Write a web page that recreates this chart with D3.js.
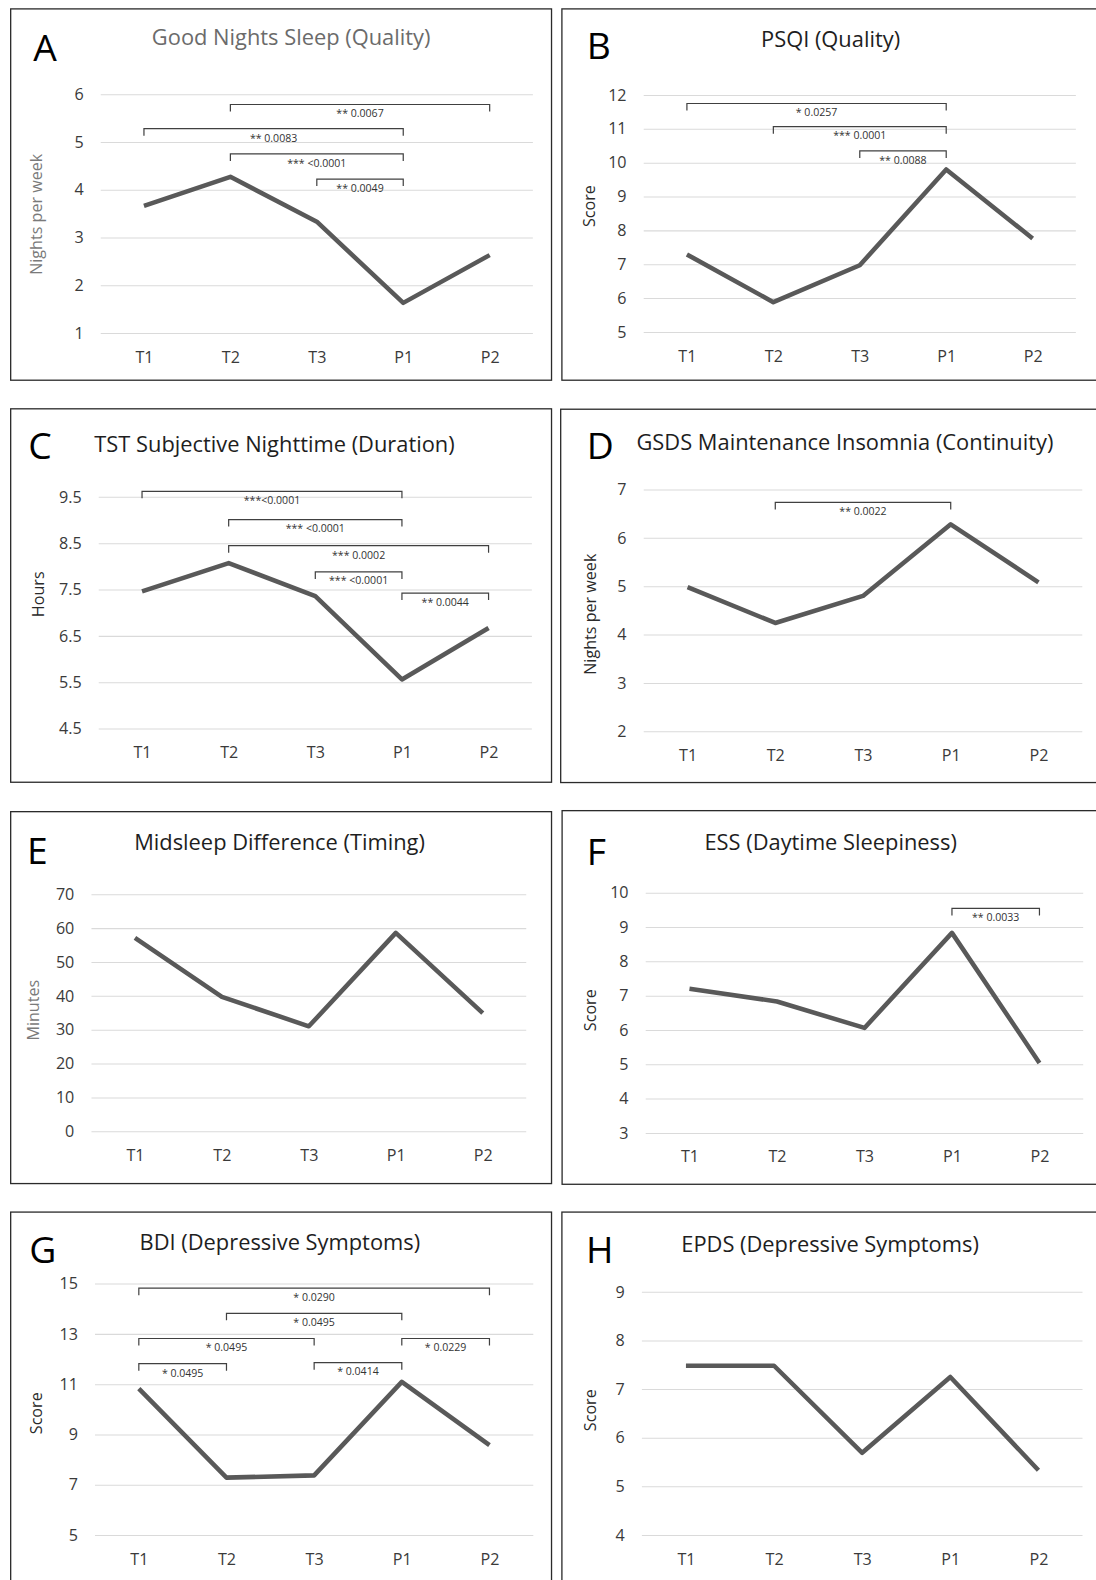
<!DOCTYPE html>
<html>
<head>
<meta charset="utf-8">
<script src="https://cdn.jsdelivr.net/npm/d3@7"></script>
<style>
body{margin:0;background:#fff;}
</style>
</head>
<body>
<svg id="chart" width="1096" height="1580" viewBox="0 0 1088 1568"></svg>
<script>
var FONT = "'Open Sans', 'Noto Sans', sans-serif";

var categories = ["T1", "T2", "T3", "P1", "P2"];

var goodNights = [3.66, 4.27, 3.33, 1.63, 2.63];
var psqiScore = [7.29, 5.88, 6.97, 9.8, 7.76];
var tstHours = [7.46, 8.07, 7.36, 5.56, 6.67];
var gsdsNights = [4.98, 4.24, 4.8, 6.28, 5.08];
var midsleepMinutes = [57.1, 39.7, 31.0, 58.6, 34.9];
var essScore = [7.2, 6.83, 6.06, 8.83, 5.04];
var bdiScore = [10.82, 7.28, 7.37, 11.09, 8.57];
var epdsScore = [7.48, 7.48, 5.69, 7.25, 5.33];

var ticksA = [1, 2, 3, 4, 5, 6];
var ticksB = [5, 6, 7, 8, 9, 10, 11, 12];
var ticksC = [4.5, 5.5, 6.5, 7.5, 8.5, 9.5];
var ticksD = [2, 3, 4, 5, 6, 7];
var ticksE = [0, 10, 20, 30, 40, 50, 60, 70];
var ticksF = [3, 4, 5, 6, 7, 8, 9, 10];
var ticksG = [5, 7, 9, 11, 13, 15];
var ticksH = [4, 5, 6, 7, 8, 9];

var letters = ["A", "B", "C", "D", "E", "F", "G", "H"];
var titles = ["Good Nights Sleep (Quality)", "PSQI (Quality)", "TST Subjective Nighttime (Duration)",
  "GSDS Maintenance Insomnia (Continuity)", "Midsleep Difference (Timing)", "ESS (Daytime Sleepiness)",
  "BDI (Depressive Symptoms)", "EPDS (Depressive Symptoms)"];
var yTitles = ["Nights per week", "Score", "Hours", "Nights per week", "Minutes", "Score", "Score", "Score"];

// [from, to, level, label]
var bracketsA = [[1, 4, 5.79, "** 0.0067"], [0, 3, 5.28, "** 0.0083"], [1, 3, 4.76, "*** <0.0001"], [2, 3, 4.23, "** 0.0049"]];
var bracketsB = [[0, 3, 11.76, "* 0.0257"], [1, 3, 11.08, "*** 0.0001"], [2, 3, 10.36, "** 0.0088"]];
var bracketsC = [[0, 3, 9.63, "***<0.0001"], [1, 3, 9.03, "*** <0.0001"], [1, 4, 8.45, "*** 0.0002"], [2, 3, 7.90, "*** <0.0001"], [3, 4, 7.43, "** 0.0044"]];
var bracketsD = [[1, 3, 6.74, "** 0.0022"]];
var bracketsE = [];
var bracketsF = [[3, 4, 9.56, "** 0.0033"]];
var bracketsG = [[0, 4, 14.84, "* 0.0290"], [1, 3, 13.83, "* 0.0495"], [0, 2, 12.84, "* 0.0495"], [3, 4, 12.84, "* 0.0229"], [0, 1, 11.82, "* 0.0495"], [2, 3, 11.88, "* 0.0414"]];
var bracketsH = [];

var panels = [
  {values: goodNights, ticks: ticksA, brackets: bracketsA, frame: [10.6, 8.6, 547.5, 377.2], xr: [100, 529], yr: [330.3, 93.3],
    title: [289, 44.7], letter: [33, 60], ylab: [41.5, 212.5], titleColor: "#6b6b6b", ylabColor: "#7a7a7a"},
  {values: psqiScore, ticks: ticksB, brackets: bracketsB, frame: [557.8, 8.6, 1100, 377.2], xr: [639, 1068], yr: [329.3, 94],
    title: [824.5, 46.3], letter: [582.4, 58], ylab: [591, 204.3]},
  {values: tstHours, ticks: ticksC, brackets: bracketsC, frame: [10.6, 405.6, 547.5, 776.3], xr: [98, 528], yr: [723, 493],
    title: [272.5, 448.4], letter: [28, 455], ylab: [43.3, 589.7], fmt: d3.format(".1f")},
  {values: gsdsNights, ticks: ticksD, brackets: bracketsD, frame: [556.6, 406, 1100, 776.6], xr: [639, 1074.4], yr: [725.7, 485.7],
    title: [838.8, 446.7], letter: [582.4, 455], ylab: [592, 609.5]},
  {values: midsleepMinutes, ticks: ticksE, brackets: bracketsE, frame: [10.6, 805.5, 547.5, 1174.7], xr: [90.8, 522.4], yr: [1122.8, 887.5],
    title: [277.5, 843.8], letter: [26.7, 857.7], ylab: [39, 1002.6], ylabColor: "#7a7a7a"},
  {values: essScore, ticks: ticksF, brackets: bracketsF, frame: [558, 804.5, 1100, 1175.4], xr: [641, 1075.3], yr: [1124.4, 886],
    title: [824.6, 843.8], letter: [582.4, 858.7], ylab: [592, 1002.6]},
  {values: bdiScore, ticks: ticksG, brackets: bracketsG, frame: [10.6, 1203, 547.5, 1600], xr: [94.3, 529.4], yr: [1523.5, 1274],
    title: [277.8, 1240.9], letter: [29, 1254], ylab: [41.9, 1402.7]},
  {values: epdsScore, ticks: ticksH, brackets: bracketsH, frame: [557.8, 1203, 1100, 1600], xr: [637.2, 1074.6], yr: [1523.5, 1282.2],
    title: [824, 1242.6], letter: [581.7, 1253.5], ylab: [592, 1399.7]}
];

var svg = d3.select("#chart");

panels.forEach(function(p, i){
  var g = svg.append("g");

  g.append("rect")
    .attr("x", p.frame[0]).attr("y", p.frame[1])
    .attr("width", p.frame[2] - p.frame[0]).attr("height", p.frame[3] - p.frame[1])
    .attr("fill", "none").attr("stroke", "#2b2b2b").attr("stroke-width", 1.3);

  var x = d3.scalePoint().domain(categories).range(p.xr).padding(0.5);
  var y = d3.scaleLinear().domain(d3.extent(p.ticks)).range(p.yr);

  g.append("g")
      .attr("transform", "translate(" + p.xr[0] + ",0)")
      .call(d3.axisLeft(y).tickValues(p.ticks).tickSize(-(p.xr[1] - p.xr[0])).tickPadding(17)
        .tickFormat(p.fmt || d3.format("d")))
      .attr("font-family", FONT).attr("font-size", 16)
      .call(function(a){
        a.select(".domain").remove();
        a.selectAll(".tick line").attr("stroke", "#dadada").attr("stroke-width", 1);
        a.selectAll(".tick text").attr("fill", "#3a3a3a");
      });

  g.append("g")
      .attr("transform", "translate(0," + p.yr[0] + ")")
      .call(d3.axisBottom(x).tickSize(0).tickPadding(18))
      .attr("font-family", FONT).attr("font-size", 16)
      .call(function(a){
        a.select(".domain").remove();
        a.selectAll(".tick text").attr("fill", "#3a3a3a");
      });

  var line = d3.line()
    .x(function(d, k){ return x(categories[k]); })
    .y(function(d){ return y(d); });

  g.append("path")
    .datum(p.values)
    .attr("d", line)
    .attr("fill", "none")
    .attr("stroke", "#595959")
    .attr("stroke-width", 4.5)
    .attr("stroke-linejoin", "round");

  var br = g.selectAll(".bracket")
    .data(p.brackets)
    .enter().append("g")
      .attr("class", "bracket");

  br.append("path")
    .attr("d", function(b){
      var x1 = x(categories[b[0]]), x2 = x(categories[b[1]]), yy = Math.round(y(b[2])) + 0.5;
      return "M" + x1 + "," + (yy + 7) + "V" + yy + "H" + x2 + "V" + (yy + 7);
    })
    .attr("fill", "none")
    .attr("stroke", "#404040")
    .attr("stroke-width", 1.2);

  br.append("text")
    .attr("x", function(b){ return (x(categories[b[0]]) + x(categories[b[1]])) / 2; })
    .attr("y", function(b){ return y(b[2]) + 13; })
    .attr("text-anchor", "middle")
    .attr("font-family", FONT)
    .attr("font-size", 10.5)
    .attr("fill", "#333")
    .text(function(b){ return b[3]; });

  g.append("text")
    .attr("x", p.title[0]).attr("y", p.title[1])
    .attr("text-anchor", "middle")
    .attr("font-family", FONT).attr("font-size", 21.7)
    .attr("fill", p.titleColor || "#1e1e1e")
    .text(titles[i]);

  g.append("text")
    .attr("x", p.letter[0]).attr("y", p.letter[1])
    .attr("font-family", FONT).attr("font-size", 37)
    .attr("fill", "#000")
    .text(letters[i]);

  g.append("text")
    .attr("transform", "translate(" + p.ylab[0] + "," + p.ylab[1] + ") rotate(-90)")
    .attr("text-anchor", "middle")
    .attr("font-family", FONT).attr("font-size", 16)
    .attr("fill", p.ylabColor || "#2a2a2a")
    .text(yTitles[i]);
});
</script>
</body>
</html>
